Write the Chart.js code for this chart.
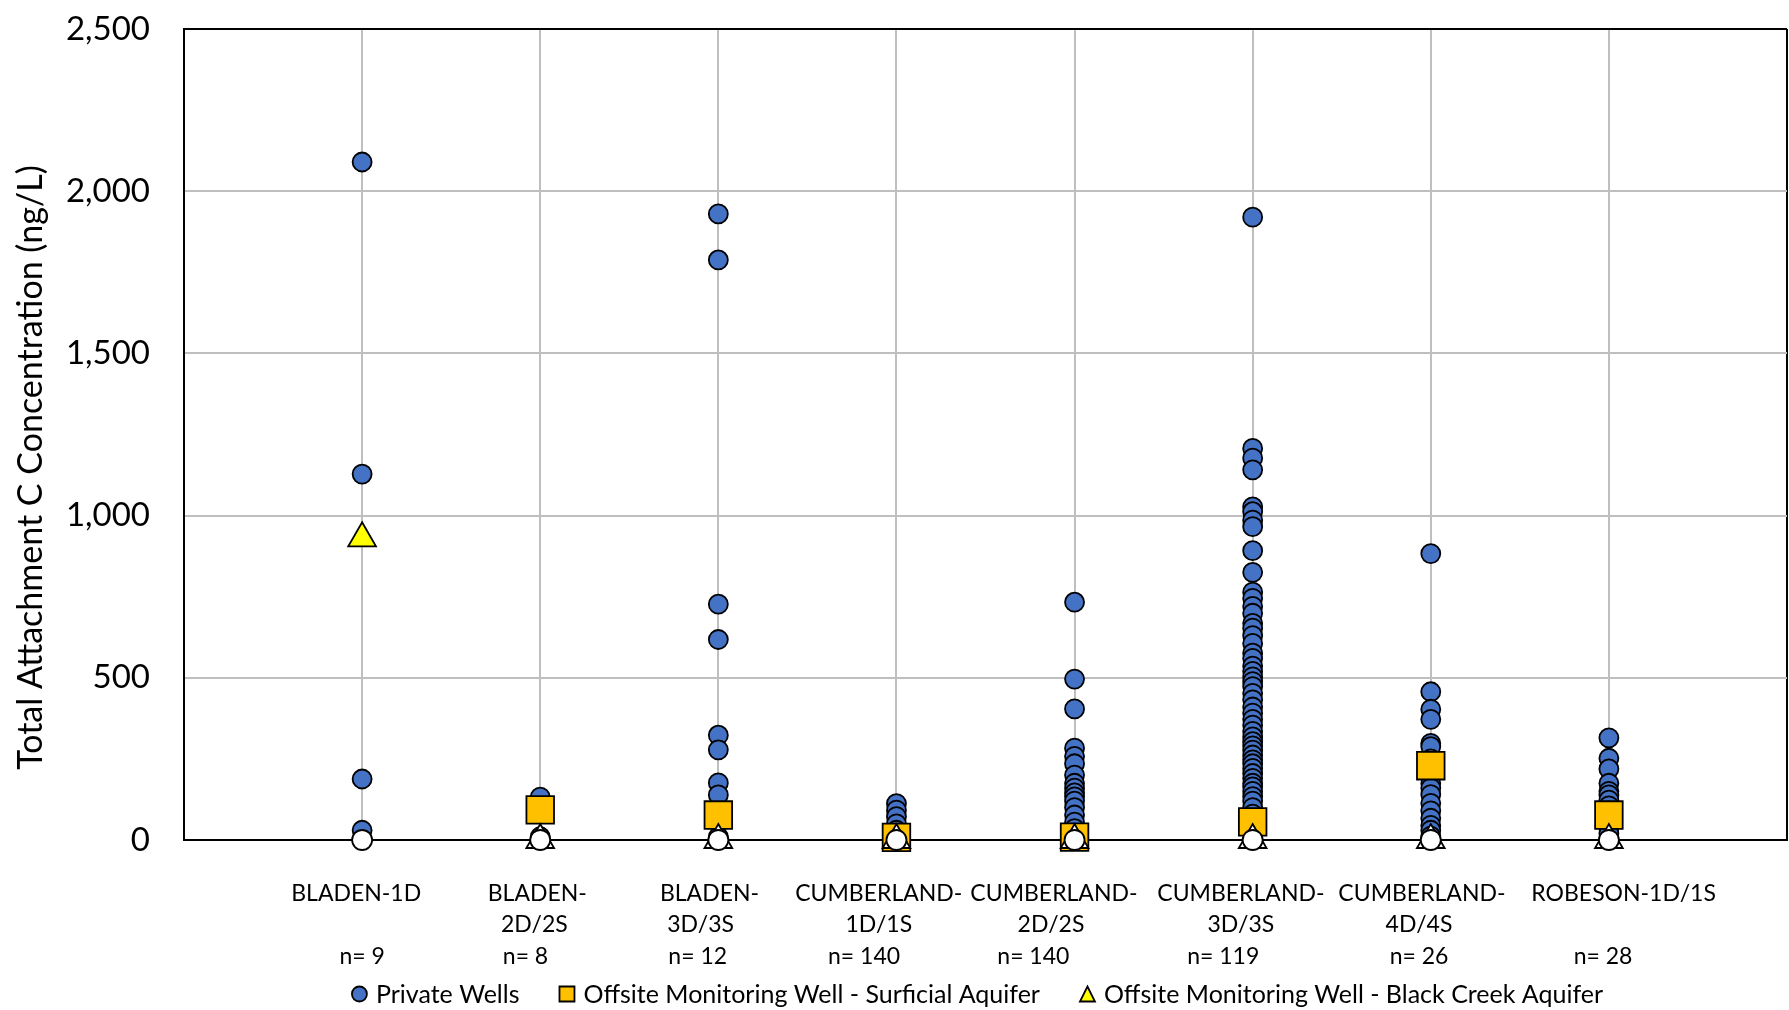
<!DOCTYPE html>
<html>
<head>
<meta charset="utf-8">
<title>Total Attachment C Concentration</title>
<script src="https://cdn.jsdelivr.net/npm/chart.js@4.4.1/dist/chart.umd.min.js"></script>
<style>
  html, body { margin: 0; padding: 0; background: #ffffff; }
  canvas { display: block; }
</style>
</head>
<body>
<canvas id="chart" width="1789" height="1010"></canvas>
<script>
const NB = '\u00a0';

// Sampling areas along the x axis (positions 1..8); the label text keeps its spacing
const labelTop = ['BLADEN-1D' + NB.repeat(2), 'BLADEN-' + NB, 'BLADEN-' + NB.repeat(3), 'CUMBERLAND-' + NB.repeat(6),
  'CUMBERLAND-' + NB.repeat(7), 'CUMBERLAND-' + NB.repeat(4), 'CUMBERLAND-' + NB.repeat(3), NB.repeat(5) + 'ROBESON-1D/1S'];
const labelBottom = ['', '2D/2S' + NB.repeat(2), '3D/3S' + NB.repeat(6), '1D/1S' + NB.repeat(6),
  '2D/2S' + NB.repeat(8), '3D/3S' + NB.repeat(4), '4D/4S' + NB.repeat(4), ''];
const sampleCounts = [9, 8, 12, 140, 140, 119, 26, 28];
const countLabels = ['n= 9', 'n= 8' + NB.repeat(5), 'n= 12' + NB.repeat(7), 'n= 140' + NB.repeat(11),
  'n= 140' + NB.repeat(14), 'n= 119' + NB.repeat(10), 'n= 26' + NB.repeat(4), 'n= 28' + NB.repeat(2)];

// Private well detections (ng/L), one array per area
const bladen1D = [2090, 1128, 188, 30];
const bladen2D2S = [132, 10];
const bladen3D3S = [1930, 1788, 727, 618, 323, 278, 176, 139, 60, 10];
const cumberland1D1S = [112, 92, 72, 50, 30, 15];
const cumberland2D2S = [733, 496, 404, 283, 258, 235, 200, 175, 160, 145, 133, 120, 100, 77, 55, 35];
const cumberland3D3S = [1920, 1207, 1177, 1141, 1027, 1012, 986, 966, 892, 825, 764, 745, 720, 699, 668, 653, 630, 606, 576, 560, 536, 520, 503, 488, 473, 452, 432, 410, 391, 372, 354, 335, 318, 303, 290, 277, 262, 247, 235, 221, 205, 190, 175, 164, 150, 134, 120, 100, 80];
const cumberland4D4S = [883, 457, 403, 372, 298, 288, 250, 200, 175, 160, 140, 113, 90, 67, 45, 30, 12];
const robeson1D1S = [315, 252, 219, 175, 150, 139, 123, 105, 90, 60, 40, 20];

// Offsite monitoring wells (ng/L); null where the area has none
const surficialValues = [null, 93, 77, 8, 9, 56, 229, 77];
const blackCreekValues = [930, null, null, null, null, null, null, null];

// Non-detects plotted at zero
const privateNonDetect = [0, 0, 0, 0, 0, 0, 0, 0];
const blackCreekNonDetect = [null, 0, 0, 0, 0, 0, 0, 0];

const yTicks = [0, 500, 1000, 1500, 2000, 2500];
const yTitle = 'Total Attachment C Concentration (ng/L)';

const privateWellSets = [bladen1D, bladen2D2S, bladen3D3S, cumberland1D1S, cumberland2D2S, cumberland3D3S, cumberland4D4S, robeson1D1S];

function toPoints(values) {
  const pts = [];
  values.forEach((v, i) => { if (v !== null) pts.push({ x: i + 1, y: v }); });
  return pts;
}
const privatePoints = [];
privateWellSets.forEach((vals, i) => vals.forEach(v => privatePoints.push({ x: i + 1, y: v })));

const FONT = 'Lato, "Open Sans", sans-serif';

// Legend markers
function drawMarker(ctx, style, cx, cy, size, fill) {
  ctx.beginPath();
  if (style === 'circle') {
    ctx.arc(cx, cy, size / 2, 0, Math.PI * 2);
  } else if (style === 'rect') {
    ctx.rect(cx - size / 2, cy - size / 2, size, size);
  } else {
    ctx.moveTo(cx, cy - size / 2);
    ctx.lineTo(cx + size / 2, cy + size / 2);
    ctx.lineTo(cx - size / 2, cy + size / 2);
    ctx.closePath();
  }
  ctx.fillStyle = fill;
  ctx.fill();
  ctx.lineWidth = 1.8;
  ctx.strokeStyle = '#000000';
  ctx.stroke();
}

// Legend row under the axis labels, roughly centred on the plot area
const bottomLegend = {
  id: 'bottomLegend',
  afterDraw(chart) {
    const ctx = chart.ctx;
    const items = chart.data.datasets.filter(d => d.inLegend);
    ctx.save();
    ctx.font = '25px ' + FONT;
    ctx.textBaseline = 'middle';
    ctx.textAlign = 'left';
    const mark = 15, markGap = 9, itemGap = 40;
    const widths = items.map(d => ctx.measureText(d.label).width);
    let total = itemGap * (items.length - 1);
    widths.forEach(w => { total += mark + markGap + w; });
    const area = chart.chartArea;
    let x = (area.left + area.right) / 2 - total / 2 - 8;
    const y = chart.height - 16;
    items.forEach((d, i) => {
      drawMarker(ctx, d.pointStyle, x + mark / 2, y, mark, d.backgroundColor);
      ctx.fillStyle = '#000000';
      ctx.fillText(d.label, x + mark + markGap, y + 1);
      x += mark + markGap + widths[i] + itemGap;
    });
    ctx.restore();
  }
};

// Rotated value-axis title, set a little below the plot's mid-height
const valueAxisTitle = {
  id: 'valueAxisTitle',
  afterDraw(chart) {
    const ctx = chart.ctx;
    const area = chart.chartArea;
    ctx.save();
    ctx.translate(31, (area.top + area.bottom) / 2 + 33);
    ctx.rotate(-Math.PI / 2);
    ctx.font = '34px ' + FONT;
    ctx.fillStyle = '#000000';
    ctx.textAlign = 'center';
    ctx.textBaseline = 'middle';
    ctx.fillText(yTitle, 0, 0);
    ctx.restore();
  }
};

new Chart(document.getElementById('chart'), {
  type: 'scatter',
  data: {
    datasets: [
      {
        label: 'Private Wells',
        inLegend: true,
        data: privatePoints,
        pointStyle: 'circle',
        pointRadius: 9.5,
        pointHoverRadius: 9.5,
        backgroundColor: '#4472C4',
        borderColor: '#000000',
        borderWidth: 1.8,
        order: 4
      },
      {
        label: 'Offsite Monitoring Well - Surficial Aquifer',
        inLegend: true,
        data: toPoints(surficialValues),
        pointStyle: 'rect',
        pointRadius: 19.5,
        pointHoverRadius: 19.5,
        backgroundColor: '#FFC000',
        borderColor: '#000000',
        borderWidth: 1.8,
        order: 3
      },
      {
        label: 'Offsite Monitoring Well - Black Creek Aquifer',
        inLegend: true,
        data: toPoints(blackCreekValues),
        pointStyle: 'triangle',
        pointRadius: 16,
        pointHoverRadius: 16,
        backgroundColor: '#FFFF00',
        borderColor: '#000000',
        borderWidth: 1.8,
        order: 2
      },
      {
        label: 'Black Creek Aquifer non-detect',
        inLegend: false,
        data: toPoints(blackCreekNonDetect),
        pointStyle: 'triangle',
        pointRadius: 16,
        pointHoverRadius: 16,
        backgroundColor: '#FFFFFF',
        borderColor: '#000000',
        borderWidth: 1.8,
        order: 1
      },
      {
        label: 'Private Wells non-detect',
        inLegend: false,
        data: toPoints(privateNonDetect),
        pointStyle: 'circle',
        pointRadius: 10,
        pointHoverRadius: 10,
        backgroundColor: '#FFFFFF',
        borderColor: '#000000',
        borderWidth: 1.8,
        order: 0
      }
    ]
  },
  options: {
    responsive: false,
    animation: false,
    devicePixelRatio: 1,
    clip: false,
    layout: { autoPadding: false, padding: { top: 29, right: 2, left: 0, bottom: 0 } },
    plugins: {
      legend: { display: false },
      tooltip: { enabled: false }
    },
    scales: {
      x: {
        type: 'linear',
        min: 0,
        max: 9,
        afterFit(scale) {
          scale.height = 170;
          scale.paddingLeft = 0;
          scale.paddingRight = 0;
        },
        afterBuildTicks(scale) {
          scale.ticks = [0, 1, 2, 3, 4, 5, 6, 7, 8, 9].map(v => ({ value: v }));
        },
        ticks: {
          autoSkip: false,
          maxRotation: 0,
          minRotation: 0,
          padding: 38,
          color: '#000000',
          font: { family: FONT, size: 23, lineHeight: 1.36 },
          callback(value) {
            const i = value - 1;
            if (i < 0 || i >= labelTop.length) return '';
            return [labelTop[i], labelBottom[i], countLabels[i]];
          }
        },
        grid: {
          drawTicks: false,
          lineWidth: 2,
          color(ctx) {
            const v = ctx.tick ? ctx.tick.value : null;
            return (v === 0 || v === 9) ? '#000000' : '#BFBFBF';
          }
        },
        border: { display: true, color: '#000000', width: 2 }
      },
      y: {
        min: 0,
        max: 2500,
        afterFit(scale) {
          scale.width = 184;
          scale.paddingTop = 0;
          scale.paddingBottom = 0;
        },
        afterBuildTicks(scale) {
          scale.ticks = yTicks.map(v => ({ value: v }));
        },
        ticks: {
          padding: 34,
          color: '#000000',
          font: { family: FONT, size: 33 },
          callback(value) { return value.toLocaleString('en-US'); }
        },
        grid: {
          drawTicks: false,
          lineWidth: 2,
          color(ctx) {
            const v = ctx.tick ? ctx.tick.value : null;
            return (v === 2500 || v === 0) ? '#000000' : '#BFBFBF';
          }
        },
        border: { display: true, color: '#000000', width: 2 },
        title: { display: false }
      }
    }
  },
  plugins: [bottomLegend, valueAxisTitle]
});
</script>
</body>
</html>
